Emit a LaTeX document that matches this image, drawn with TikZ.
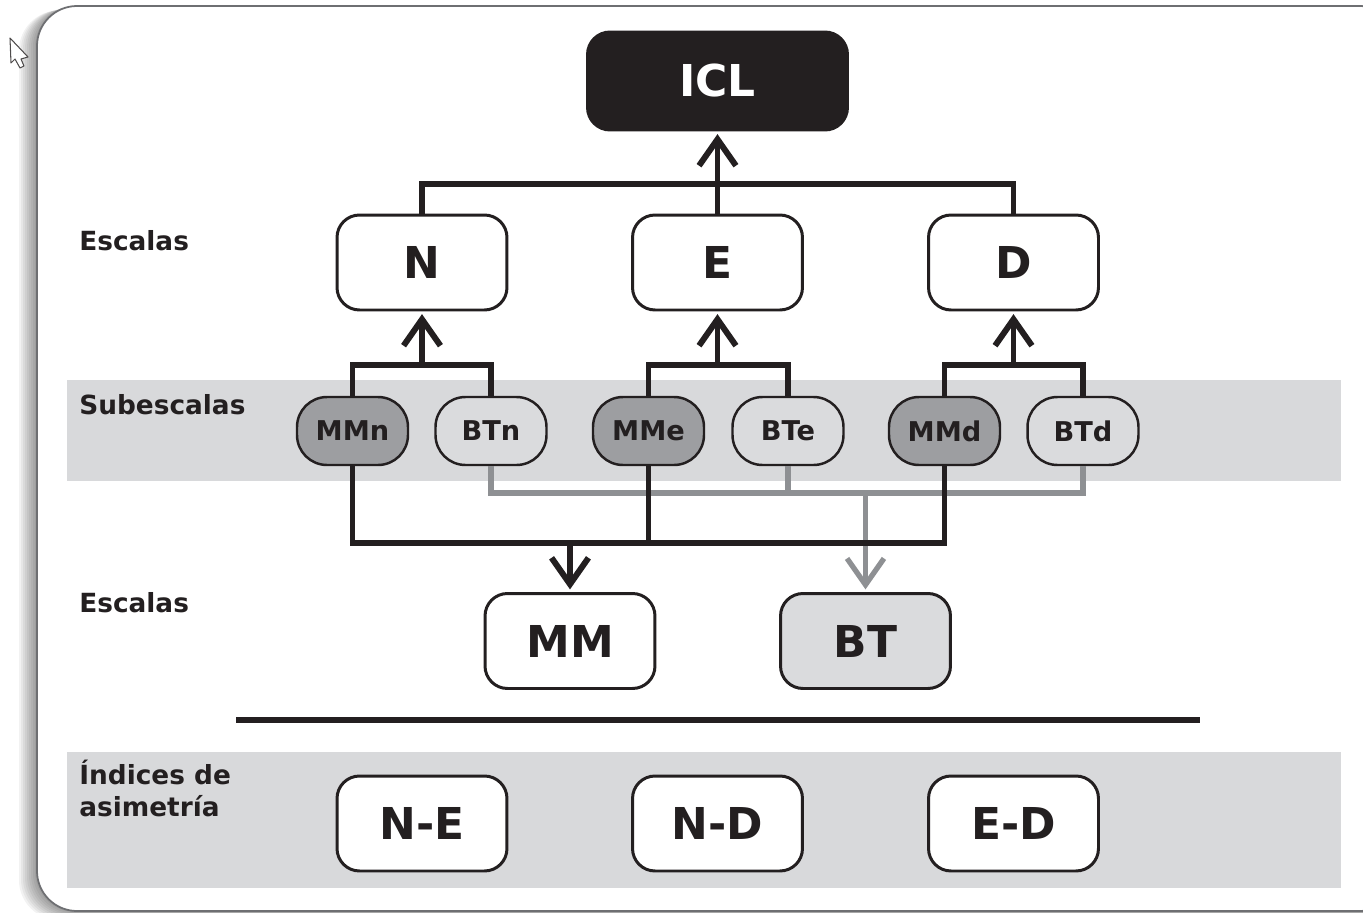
\documentclass[tikz,border=0pt]{standalone}
\usepackage{fontspec}
\setmainfont{DejaVu Sans}
\usepackage{tikz}
\usetikzlibrary{positioning, arrows.meta, calc}

\definecolor{inkdark}{HTML}{231F20}
\definecolor{mmgray}{HTML}{9D9EA1}
\definecolor{btgray}{HTML}{DADBDD}
\definecolor{bandgray}{HTML}{D8D9DB}
\definecolor{wiregray}{HTML}{8E9093}
\definecolor{framegray}{HTML}{6E6F72}

\tikzset{
  scalebox/.style={draw=inkdark, line width=1.7pt, rounded corners=0.45cm, fill=white,
    minimum width=3.4cm, minimum height=1.9cm, text=inkdark,
    font=\fontsize{25}{30}\selectfont\bfseries},
  topbox/.style={scalebox, fill=inkdark, text=white, minimum width=5.2cm, minimum height=1.96cm},
  subbox/.style={draw=inkdark, line width=1.4pt, rounded corners=0.6cm,
    minimum width=2.22cm, minimum height=1.36cm, text=inkdark,
    font=\fontsize{15.5}{18}\selectfont\bfseries},
  mmsub/.style={subbox, fill=mmgray},
  btsub/.style={subbox, fill=btgray},
  rowlabel/.style={inner sep=0pt, text=inkdark, align=left,
    font=\fontsize{15}{18.2}\selectfont\bfseries},
  wire/.style={draw=inkdark, line width=3.4pt, line join=miter},
  graywire/.style={draw=wiregray, line width=3pt, line join=miter},
  barb/.style={-{Straight Barb[length=15pt, width=21pt]}, shorten >=1.5pt}
}

\begin{document}
\begin{tikzpicture}[x=0.02cm, y=-0.02cm]
\clip (0,0) rectangle (1363,913);

% frame with soft shadow on the left
\foreach \i in {1,...,9}
  \fill[black, opacity=0.05, rounded corners=0.8cm] (37-2*\i, 6+0.5*\i) rectangle (1400, 911+\i);
\fill[white, rounded corners=0.8cm] (37,6) rectangle (1400,911);
\draw[framegray, line width=1pt, rounded corners=0.8cm] (37,6) rectangle (1400,911);

% mouse pointer
\draw[inkdark!80, fill=white, line width=0.6pt, line join=round]
  (10,38) -- (11,63) -- (15,59) -- (20,68) -- (24,66) -- (21,59) -- (28,57) -- cycle;

% bands
\fill[bandgray] (67,380) rectangle (1341,481);
\fill[bandgray] (67,752) rectangle (1341,888);
\draw[inkdark, line width=3pt] (236,720) -- (1200,720);

% row labels
\node[rowlabel, anchor=base west] (lblA) at (79,250) {Escalas};
\node[rowlabel, anchor=base west] (lblB) at (79,414) {Subescalas};
\node[rowlabel, anchor=base west] (lblC) at (79,612) {Escalas};
\node[rowlabel, anchor=north west] (lblD) at (79,760) {Índices de\\asimetría};

% boxes
\node[topbox] (ICL) at (717.5,81) {ICL};
\node[scalebox] (N) at (422,262.5) {N};
\node[scalebox] (E) at (717.5,262.5) {E};
\node[scalebox] (D) at (1013.5,262.5) {D};

\node[mmsub] (MMn) at (352.5,431) {MMn};
\node[btsub] (BTn) at (491,431) {BTn};
\node[mmsub] (MMe) at (648.5,431) {MMe};
\node[btsub] (BTe) at (788,431) {BTe};
\node[mmsub] (MMd) at (944.5,431) {MMd};
\node[btsub] (BTd) at (1083,431) {BTd};

\node[scalebox] (MM) at (570,641) {MM};
\node[scalebox, fill=btgray] (BT) at (865.5,641) {BT};

\node[scalebox] (NE) at (422,823.5) {N-E};
\node[scalebox] (ND) at (717.5,823.5) {N-D};
\node[scalebox] (ED) at (1013.5,823.5) {E-D};

% bus levels
\coordinate (topbus) at (0,184);
\coordinate (subbus) at (0,365);
\coordinate (btbus) at (0,493);
\coordinate (mmbus) at (0,543);

% scales to ICL
\draw[wire] (N.north) -- (N.north |- topbus) -- (D.north |- topbus) -- (D.north);
\draw[wire, barb] (E.north) -- (ICL.south);

% subscales to scales
\foreach \s/\S in {n/N, e/E, d/D}{
  \draw[wire] (MM\s.north) -- (MM\s.north |- subbus) -- (BT\s.north |- subbus) -- (BT\s.north);
  \draw[wire, barb] (\S.south |- subbus) -- (\S.south);
}

% subscales to MM and BT
\draw[graywire] (BTn.south) -- (BTn.south |- btbus) -- (BTd.south |- btbus) -- (BTd.south);
\draw[graywire] (BTe.south) -- (BTe.south |- btbus);
\draw[graywire, barb] (BT.north |- btbus) -- (BT.north);

\draw[wire] (MMn.south) -- (MMn.south |- mmbus) -- (MMd.south |- mmbus) -- (MMd.south);
\draw[wire] (MMe.south) -- (MMe.south |- mmbus);
\draw[wire, barb] (MM.north |- mmbus) -- (MM.north);
\end{tikzpicture}
\end{document}
